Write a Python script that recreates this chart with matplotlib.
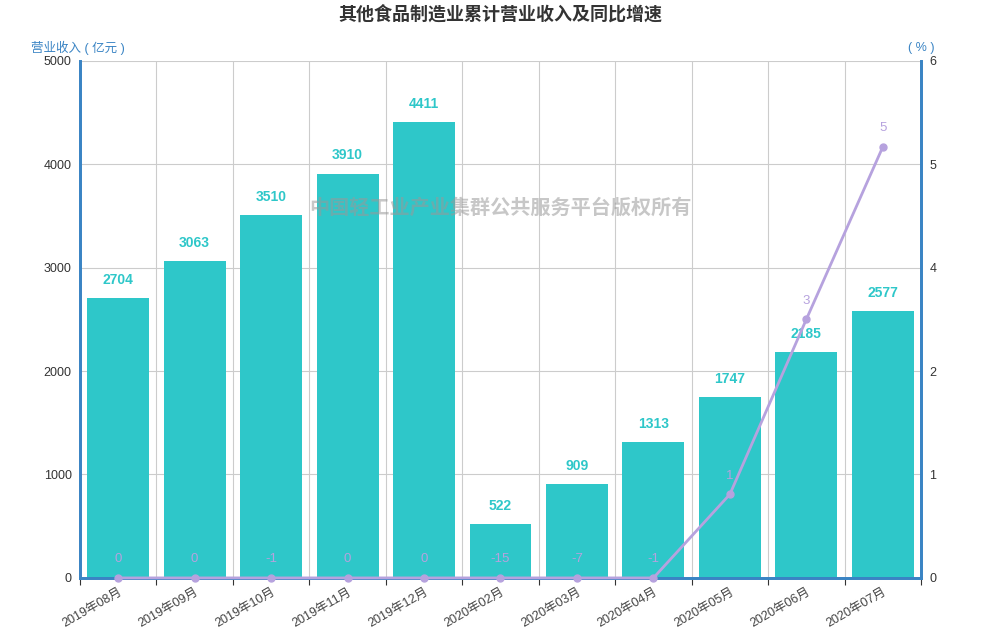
import numpy as np
import matplotlib
matplotlib.use("Agg")
import matplotlib.pyplot as plt

plt.rcParams['font.family'] = ['Liberation Sans', 'Noto Sans CJK SC', 'DejaVu Sans']

# data
months = ['2019年08月', '2019年09月', '2019年10月', '2019年11月', '2019年12月',
          '2020年02月', '2020年03月', '2020年04月', '2020年05月', '2020年06月',
          '2020年07月']
revenue = [2704, 3063, 3510, 3910, 4411, 522, 909, 1313, 1747, 2185, 2577]
growth = [0, 0, -1, 0, 0, -15, -7, -1, 0.97, 3.0, 5.0]
right_ticks = [0, 1.2, 2.4, 3.6, 4.8, 6]

BAR = '#2ec7c9'
LINE = '#b6a2de'
AXIS = '#3a84c4'
TXT = '#333333'

fig = plt.figure(figsize=(10, 6.4), dpi=100)
ax = fig.add_axes([0.08, 0.097, 0.841, 0.808])
ax2 = ax.twinx()

x = np.arange(len(months))
ax.bar(x, revenue, width=0.81, color=BAR, zorder=2)
for xi, v in zip(x, revenue):
    ax.annotate(str(v), (xi, v), xytext=(0, 8), textcoords='offset points',
                ha='center', va='bottom', color=BAR, fontsize=10,
                fontweight='heavy')

ax.set_xlim(-0.5, len(months) - 0.5)
ax.set_ylim(0, 5000)
ax.set_yticks([0, 1000, 2000, 3000, 4000, 5000])
ax.grid(axis='y', color='#cccccc', linewidth=0.8, zorder=0)
ax.set_axisbelow(True)

# vertical split lines at category boundaries
bounds = np.arange(len(months) + 1) - 0.5
for b in bounds[1:-1]:
    ax.axvline(b, color='#cccccc', linewidth=0.8, zorder=0)
ax.set_xticks(bounds, minor=True)
ax.set_xticks(x)
ax.set_xticklabels(months, rotation=30, ha='right', rotation_mode='anchor',
                   fontsize=9, color='#444444')
ax.tick_params(axis='x', which='major', length=0, pad=6)
ax.tick_params(axis='x', which='minor', length=5, color=TXT, width=0.8)
ax.tick_params(axis='y', length=0, labelsize=9, labelcolor=TXT, pad=6)

# growth line, negatives sit on the axis floor
shown = np.maximum(growth, 0)
ax2.plot(x, shown, color=LINE, linewidth=2, marker='o', markersize=5,
         zorder=5, clip_on=False)
for xi, yv, g in zip(x, shown, growth):
    ax2.annotate('%.0f' % g, (xi, yv), xytext=(0, 9), textcoords='offset points',
                 ha='center', va='bottom', color=LINE, fontsize=9.5)
ax2.set_ylim(0, 6)
ax2.set_yticks(right_ticks)
ax2.set_yticklabels(['%.0f' % t for t in right_ticks])
ax2.tick_params(axis='y', length=0, labelsize=9, labelcolor=TXT, pad=6)

for a in (ax, ax2):
    a.spines['top'].set_visible(False)
    for side in ('left', 'right', 'bottom'):
        a.spines[side].set_color(AXIS)
        a.spines[side].set_linewidth(2)

fig.text(0.5, 0.978, '其他食品制造业累计营业收入及同比增速', ha='center', va='center',
         fontsize=13, fontweight='bold', color=TXT)
fig.text(0.078, 0.925, '营业收入 ( 亿元 )', ha='center', va='center',
         fontsize=9, color=AXIS)
fig.text(0.921, 0.925, '( % )', ha='center', va='center', fontsize=9, color=AXIS)
fig.text(0.5, 0.675, '中国轻工业产业集群公共服务平台版权所有', ha='center', va='center',
         fontsize=14.5, fontweight='bold', color='#999999', alpha=0.55, zorder=10)

fig.savefig('out.png', dpi=100, facecolor='white')
